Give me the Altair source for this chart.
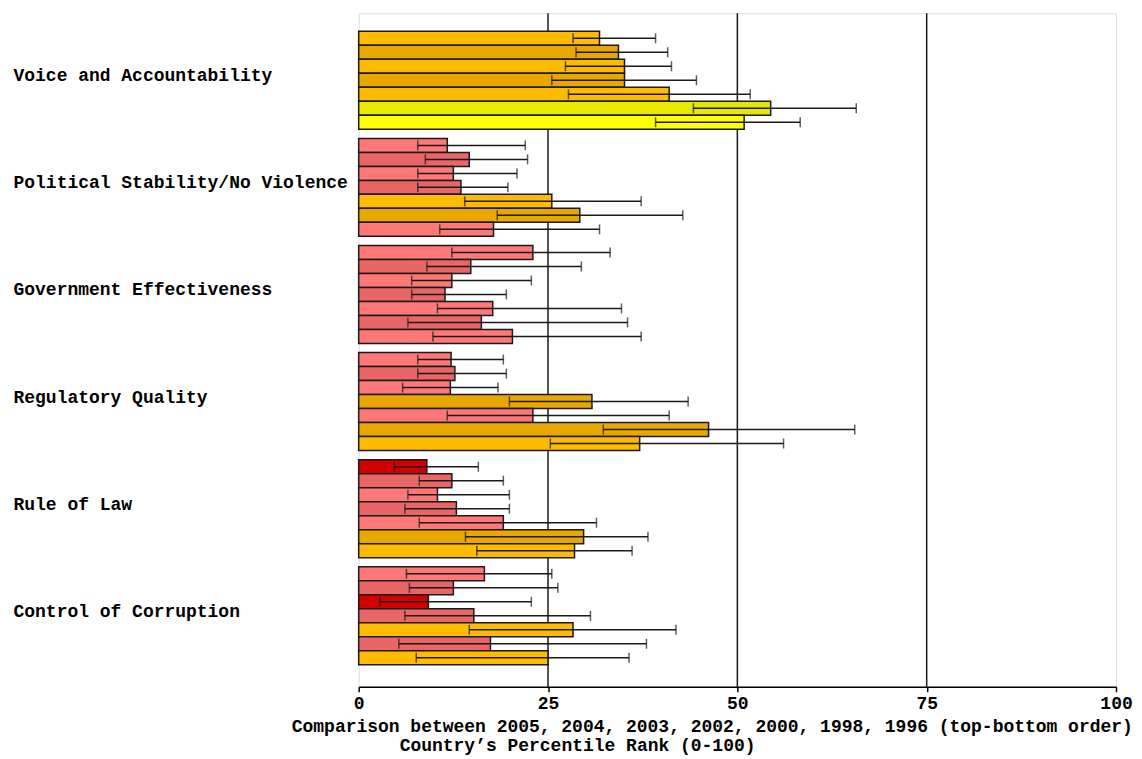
import altair as alt
import pandas as pd

categories = [
    "Voice and Accountability",
    "Political Stability/No Violence",
    "Government Effectiveness",
    "Regulatory Quality",
    "Rule of Law",
    "Control of Corruption",
]
years = ["2005", "2004", "2003", "2002", "2000", "1998", "1996"]

va_rank = [31.8, 34.3, 35.1, 35.1, 41.0, 54.4, 50.9]
va_low = [28.3, 28.7, 27.3, 25.5, 27.7, 44.2, 39.2]
va_high = [39.2, 40.8, 41.3, 44.6, 51.7, 65.7, 58.3]

ps_rank = [11.7, 14.6, 12.5, 13.5, 25.5, 29.2, 17.8]
ps_low = [7.8, 8.8, 7.8, 7.8, 14.0, 18.3, 10.7]
ps_high = [22.0, 22.3, 20.9, 19.7, 37.3, 42.8, 31.8]

ge_rank = [23.0, 14.8, 12.3, 11.4, 17.7, 16.2, 20.3]
ge_low = [12.3, 9.0, 7.0, 7.0, 10.4, 6.5, 9.8]
ge_high = [33.2, 29.4, 22.8, 19.5, 34.7, 35.5, 37.3]

rq_rank = [12.2, 12.7, 12.1, 30.8, 23.0, 46.2, 37.1]
rq_low = [7.8, 7.8, 5.8, 19.9, 11.7, 32.3, 25.3]
rq_high = [19.1, 19.5, 18.4, 43.5, 41.0, 65.5, 56.1]

rl_rank = [9.0, 12.3, 10.4, 12.9, 19.1, 29.7, 28.5]
rl_low = [4.7, 8.0, 6.5, 6.1, 8.0, 14.1, 15.6]
rl_high = [15.8, 19.1, 19.9, 19.9, 31.4, 38.2, 36.1]

cc_rank = [16.6, 12.5, 9.2, 15.2, 28.3, 17.4, 25.0]
cc_low = [6.3, 6.7, 2.8, 6.1, 14.6, 5.3, 7.6]
cc_high = [25.5, 26.3, 22.8, 30.6, 41.9, 38.0, 35.7]

grid_values = [25, 50, 75]
tick_values = [0, 25, 50, 75, 100]
title_line1 = "Comparison between 2005, 2004, 2003, 2002, 2000, 1998, 1996 (top-bottom order)"
title_line2 = "Country\u2019s Percentile Rank (0-100)"

# colour rule of the percentile-rank bands (light / darker alternating rows)
def band_colour(v, i):
    if v < 10:
        pair = ("#D20000", "#BC0000")
    elif v < 25:
        pair = ("#FF7878", "#E86666")
    elif v < 50:
        pair = ("#FFBB00", "#E8A800")
    elif v < 75:
        pair = ("#FFFF00", "#E8E800")
    else:
        pair = ("#00CC00", "#00B400")
    return pair[i % 2]

series = [
    (va_rank, va_low, va_high),
    (ps_rank, ps_low, ps_high),
    (ge_rank, ge_low, ge_high),
    (rq_rank, rq_low, rq_high),
    (rl_rank, rl_low, rl_high),
    (cc_rank, cc_low, cc_high),
]
rows = []
for cat, (r, lo, hi) in zip(categories, series):
    for i, yr in enumerate(years):
        rows.append({"indicator": cat, "year": yr, "rank": r[i], "low": lo[i],
                     "high": hi[i], "fill": band_colour(r[i], i)})
df = pd.DataFrame(rows)

FONT = "Liberation Mono"
W, H = 758, 674
INK = "#1a1a1a"

x_scale = alt.Scale(domain=[0, 100], nice=False, zero=True)
y_enc = alt.Y(
    "indicator:N", sort=categories,
    scale=alt.Scale(paddingInner=0.0858, paddingOuter=0.1866, align=0.45),
    axis=alt.Axis(title=None, labelAlign="left", labelBaseline="middle",
                  labelPadding=346, ticks=False, domain=False, labelFont=FONT,
                  labelFontWeight="bold", labelFontSize=18, labelColor="#000",
                  labelOffset=-4, labelLimit=400),
)
yoff = alt.YOffset("year:N", sort=years,
                   scale=alt.Scale(paddingInner=0, paddingOuter=0))

base = alt.Chart(df)

grid = alt.Chart(pd.DataFrame({"g": grid_values})).mark_rule(
    color=INK, strokeWidth=1.5
).encode(x=alt.X("g:Q", scale=x_scale))

bars = base.mark_bar(stroke=INK, strokeWidth=1.5).encode(
    x=alt.X("rank:Q", scale=x_scale,
            axis=alt.Axis(values=tick_values, title=None, grid=False,
                          labelFlush=False,
                          domainColor="#000", domainWidth=1.5, tickColor="#000",
                          tickSize=5, tickWidth=1.5, labelFont=FONT,
                          labelFontSize=18, labelFontWeight="bold",
                          labelColor="#000", labelPadding=3)),
    y=y_enc, yOffset=yoff,
    color=alt.Color("fill:N", scale=None),
)

err = base.mark_rule(color=INK, strokeWidth=1.5).encode(
    x=alt.X("low:Q", scale=x_scale), x2="high:Q", y=y_enc, yOffset=yoff)
tick_lo = base.mark_tick(color=INK, thickness=1.5, size=10).encode(
    x=alt.X("low:Q", scale=x_scale), y=y_enc, yOffset=yoff)
tick_hi = base.mark_tick(color=INK, thickness=1.5, size=10).encode(
    x=alt.X("high:Q", scale=x_scale), y=y_enc, yOffset=yoff)

t1 = alt.Chart(pd.DataFrame({"t": [title_line1]})).mark_text(
    align="left", baseline="alphabetic", font=FONT, fontWeight="bold",
    fontSize=18, color="#000"
).encode(x=alt.value(-67), y=alt.value(H + 45), text="t:N")
t2 = alt.Chart(pd.DataFrame({"t": [title_line2]})).mark_text(
    align="left", baseline="alphabetic", font=FONT, fontWeight="bold",
    fontSize=18, color="#000"
).encode(x=alt.value(41), y=alt.value(H + 64), text="t:N")

chart = alt.layer(grid, bars, err, tick_lo, tick_hi, t1, t2).properties(
    width=W, height=H,
    padding={"left": 5, "top": 4, "right": 0, "bottom": 0},
).configure_view(stroke="#8a8a8a", strokeWidth=1.5).configure(background="white")

chart.save("out.html", embed_options={"renderer": "svg", "actions": False})
